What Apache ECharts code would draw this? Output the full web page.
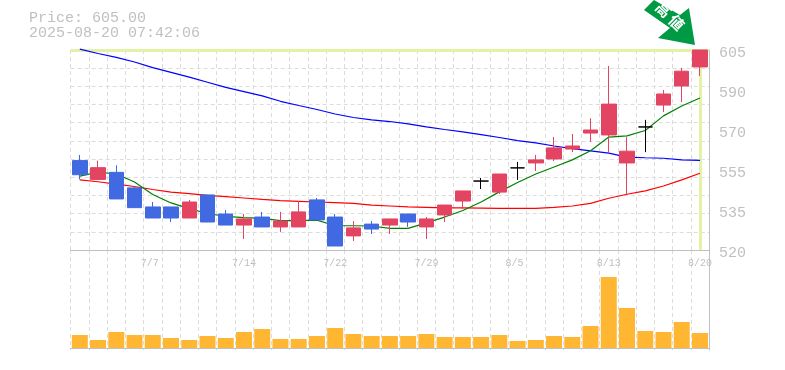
<!DOCTYPE html>
<html>
<head>
<meta charset="utf-8">
<style>html,body{margin:0;padding:0;background:#fff}#c{width:785px;height:370px}</style>
<script src="https://cdn.jsdelivr.net/npm/echarts@6/dist/echarts.min.js"></script>
</head>
<body>
<div id="c"></div>
<script>
const categories = ['7/1','7/2','7/3','7/4','7/7','7/8','7/9','7/10','7/11','7/14','7/15','7/16','7/17','7/18','7/22','7/23','7/24','7/25','7/28','7/29','7/30','7/31','8/1','8/4','8/5','8/6','8/7','8/8','8/12','8/13','8/14','8/15','8/18','8/19','8/20'];
const opens  = [558,550,553,546.4,538.3,538.3,533.6,543.4,535.3,530.6,534,529.8,529.8,541.3,534,526,531,530.6,535.3,529.8,534.9,540.8,549.3,544.6,554.9,557,558.7,562.9,569.7,568.9,557,572.3,581.6,589.7,597.8];
const closes = [552,555,541.7,538,533.6,533.6,540.4,531.9,530.6,533.2,529.8,532.3,536.2,532.8,521.7,529.4,528.9,533.2,531.9,533.2,539.1,545.1,549.3,552.3,554.9,558.3,563.4,564.2,571,582,562,572.3,586.3,596,605];
const lows   = [550,550,541.7,538,533.6,531.9,533.6,531.9,530.6,524.7,529.8,527.7,529.8,532.8,521.7,523.8,526.8,526.8,529.8,524.7,531.9,537.4,545.9,543.8,549.8,553.6,557.8,561.6,565.9,561.2,543.8,561.6,578.6,582.9,594];
const highs  = [560.4,558,556,547,540.4,538.3,541.3,543.4,537,535.3,536.2,536.2,540.8,542.1,535.3,532.3,532.3,533.2,535.3,534,539.1,545.1,550.6,552.3,557.4,560.4,568,569.3,576,598.2,568,575.3,588,597.4,605];
const maShort = [551.4,553.1,552.3,548.9,543.6,540,537.6,535.5,534.3,533.8,533.4,532.5,532.5,532.7,530.3,530.3,530.2,529.2,529.2,531.5,534,536.8,540.4,544.7,548.7,552.3,555.3,558.3,562.2,568,568.5,570.8,577,581.2,584.6];
const maMid   = [549.8,549,548,547,545.7,544.6,544,543.2,542.7,542.1,541.5,541,540.7,540.4,540.1,539.8,539.1,538.7,538.3,538.1,537.9,537.9,537.8,537.7,537.7,537.7,538.1,538.7,539.8,542,543.7,545.1,547.2,549.8,552.6];
const maLong  = [605.4,603.5,601.9,599.9,597.5,595.5,593.5,591.3,589.1,587.3,585.5,583.2,581.4,579.7,577.8,576.3,575.3,574.6,573.6,572.3,571.2,570.2,569,567.8,566.5,565.5,564.2,563.1,562.1,561.2,559.5,559.2,559,558.3,558.1];
const volumes = [13,8,16,13,13,10,8,12,10,16,19,9,9,12,20,14,12,12,12,14,11,11,11,13,7,8,12,11,22,71,40,17,16,26,15];
const gridPrices = [520,527.73,535.45,543.18,550.91,558.64,566.36,574.09,581.82,589.55,597.27,605];
const labelPrices = [520,537,554,571,588,605];
const labelTexts = ['520','535','555','570','590','605'];
const currentPrice = 605;
const currentDay = '8/20';
const titleLines = ['Price: 605.00','2025-08-20 07:42:06'];

const GRAY = '#c0c0c0', GRID = '#dcdcdc', MONO = '"Liberation Mono","DejaVu Sans Mono",monospace';
const dashed = {show:true, interval:0, lineStyle:{color:GRID, type:[4,3], width:1}};
const chart = echarts.init(document.getElementById('c'), null, {renderer:'canvas'});
chart.setOption({
  animation:false,
  backgroundColor:'#fff',
  title:{text:titleLines.join('\n'), left:29, top:11, padding:0,
    textStyle:{fontFamily:MONO,fontSize:15,fontWeight:'normal',color:GRAY,lineHeight:15}},
  grid:[
    {left:70.7, width:638.4, top:50, height:200},
    {left:70.7, width:638.4, top:250, height:100}
  ],
  xAxis:[
    {type:'category',gridIndex:0,data:categories,boundaryGap:true,
     axisLine:{show:true,lineStyle:{color:GRAY,width:1}},axisTick:{show:false},
     splitLine:dashed,
     axisLabel:{show:true,interval:(i)=>i%5===4,margin:8,fontFamily:MONO,fontSize:10,color:GRAY,hideOverlap:false,
       showMaxLabel:true,formatter:(v)=>v.padEnd(4,' ')}},
    {type:'category',gridIndex:1,data:categories,boundaryGap:true,
     axisLine:{show:true,lineStyle:{color:GRAY,width:1}},axisTick:{show:false},
     splitLine:dashed,axisLabel:{show:false}}
  ],
  yAxis:[
    {type:'value',gridIndex:0,position:'right',min:520,max:605,scale:true,
     axisLine:{show:true,lineStyle:{color:GRAY,width:1}},
     axisTick:{show:false,customValues:gridPrices},
     splitLine:{show:true,lineStyle:{color:GRID,type:[4,3],width:1}},
     axisLabel:{show:true,customValues:labelPrices,margin:10,fontFamily:MONO,fontSize:15,color:GRAY,
       verticalAlign:'top',lineHeight:6,
       formatter:(v)=>labelTexts[labelPrices.indexOf(v)]}},
    {type:'value',gridIndex:1,position:'right',min:-2,max:98,
     axisLine:{show:true,lineStyle:{color:GRAY,width:1}},axisTick:{show:false},
     splitLine:{show:false},axisLabel:{show:false}}
  ],
  series:[
    {name:'long',type:'line',data:maLong,xAxisIndex:0,yAxisIndex:0,z:2,clip:false,showSymbol:false,symbol:'none',
     lineStyle:{color:'#0000ff',width:1.2}},
    {name:'mid',type:'line',data:maMid,xAxisIndex:0,yAxisIndex:0,z:2,showSymbol:false,symbol:'none',
     lineStyle:{color:'#ff0000',width:1.2},
     markLine:{silent:true,symbol:'none',z:1,animation:false,label:{show:false},
       lineStyle:{color:'#e3f3a6',width:3,type:'solid'},
       data:[{yAxis:currentPrice},{xAxis:currentDay}]}},
    {name:'short',type:'line',data:maShort,xAxisIndex:0,yAxisIndex:0,z:2,showSymbol:false,symbol:'none',
     lineStyle:{color:'#008000',width:1.2}},
    {name:'price',type:'candlestick',xAxisIndex:0,yAxisIndex:0,z:3,barWidth:15,clip:false,
     data:categories.map((_,i)=>[opens[i],closes[i],lows[i],highs[i]]),
     itemStyle:{color:'#e24462',color0:'#4169e1',borderColor:'#e24462',borderColor0:'#4169e1',borderColorDoji:'#000000',borderWidth:1},
     markPoint:{silent:true,animation:false,z:6,
       data:[{coord:[currentDay,currentPrice],
         symbol:'path://M0 10 L10 0 L36 15 L45 8 L51 45 L14 38 L26 28 Z',
         symbolSize:[51,45],symbolKeepAspect:false,symbolOffset:[-30.5,-27.5],
         itemStyle:{color:'#009944'},
         label:{show:true,position:'inside',formatter:'高 値',rotate:-45,offset:[-4,-5],
           color:'#fff',fontSize:15,fontWeight:'bold',fontFamily:'"Noto Sans CJK JP"'}}]}},
    {name:'volume',type:'bar',xAxisIndex:1,yAxisIndex:1,data:volumes,barWidth:16,
     itemStyle:{color:'#ffb733'}}
  ]
});
</script>
</body>
</html>
